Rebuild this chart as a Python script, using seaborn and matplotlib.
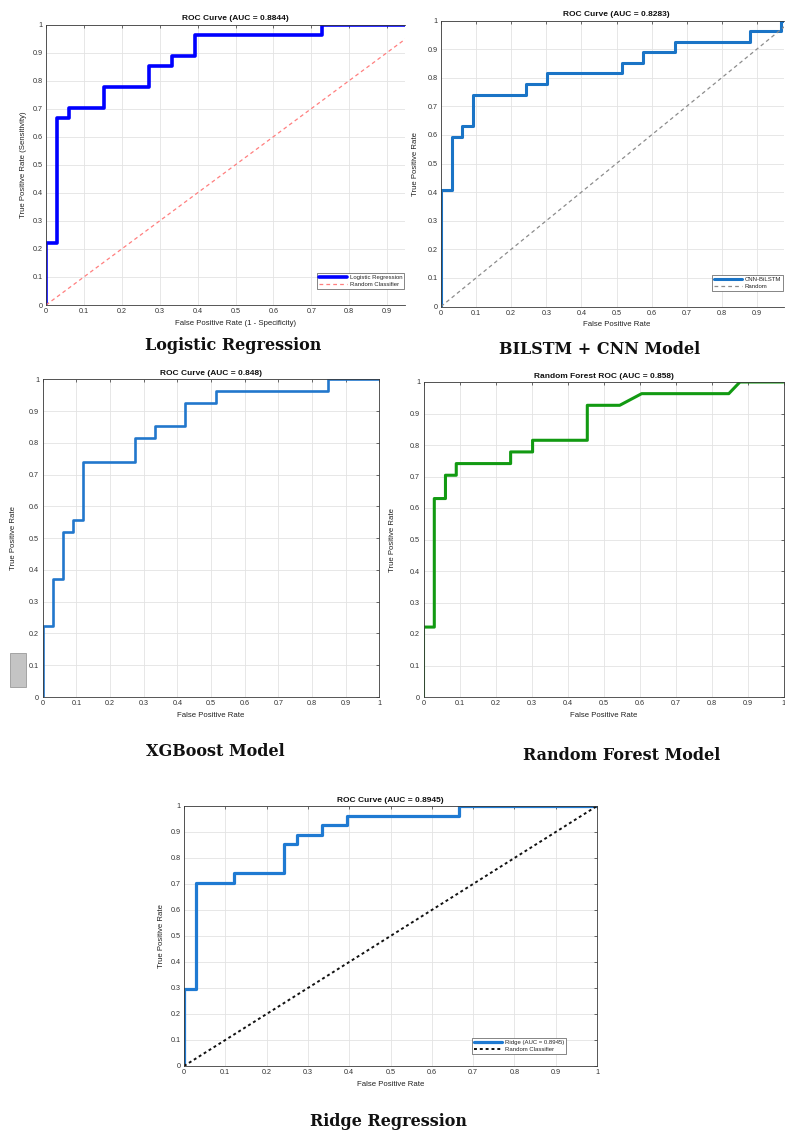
import numpy as np
import pandas as pd
import seaborn as sns
import matplotlib
matplotlib.use("Agg")
import matplotlib.pyplot as plt
from matplotlib.patches import Rectangle

# ---------------- ROC data (corner points of each curve) ----------------
lr_fpr = [0.0, 0.0, 0.030, 0.030, 0.061, 0.061, 0.152, 0.152, 0.273, 0.273,
          0.333, 0.333, 0.394, 0.394, 0.727, 0.727, 1.0]
lr_tpr = [0.0, 0.222, 0.222, 0.667, 0.667, 0.704, 0.704, 0.778, 0.778, 0.852,
          0.852, 0.889, 0.889, 0.963, 0.963, 1.0, 1.0]

cnn_fpr = [0.0, 0.0, 0.030, 0.030, 0.061, 0.061, 0.091, 0.091, 0.242, 0.242,
           0.303, 0.303, 0.515, 0.515, 0.576, 0.576, 0.667, 0.667, 0.879, 0.879,
           0.970, 0.970, 1.0]
cnn_tpr = [0.0, 0.407, 0.407, 0.593, 0.593, 0.630, 0.630, 0.741, 0.741, 0.778,
           0.778, 0.815, 0.815, 0.852, 0.852, 0.889, 0.889, 0.926, 0.926, 0.963,
           0.963, 1.0, 1.0]

xgb_fpr = [0.0, 0.0, 0.030, 0.030, 0.061, 0.061, 0.091, 0.091, 0.121, 0.121,
           0.273, 0.273, 0.333, 0.333, 0.424, 0.424, 0.515, 0.515, 0.848, 0.848, 1.0]
xgb_tpr = [0.0, 0.222, 0.222, 0.370, 0.370, 0.519, 0.519, 0.556, 0.556, 0.741,
           0.741, 0.815, 0.815, 0.852, 0.852, 0.926, 0.926, 0.963, 0.963, 1.0, 1.0]

rf_fpr = [0.0, 0.0, 0.030, 0.030, 0.061, 0.061, 0.091, 0.091, 0.242, 0.242,
          0.303, 0.303, 0.455, 0.455, 0.545, 0.606, 0.848, 0.879, 1.0]
rf_tpr = [0.0, 0.222, 0.222, 0.630, 0.630, 0.704, 0.704, 0.741, 0.741, 0.778,
          0.778, 0.815, 0.815, 0.926, 0.926, 0.963, 0.963, 1.0, 1.0]

ridge_fpr = [0.0, 0.0, 0.030, 0.030, 0.121, 0.121, 0.242, 0.242, 0.273, 0.273,
             0.333, 0.333, 0.394, 0.394, 0.667, 0.667, 1.0]
ridge_tpr = [0.0, 0.296, 0.296, 0.704, 0.704, 0.741, 0.741, 0.852, 0.852, 0.889,
             0.889, 0.926, 0.926, 0.963, 0.963, 1.0, 1.0]

chance = [0.0, 1.0]

tick_vals = [0, 0.1, 0.2, 0.3, 0.4, 0.5, 0.6, 0.7, 0.8, 0.9, 1]
tick_text = ["0", "0.1", "0.2", "0.3", "0.4", "0.5", "0.6", "0.7", "0.8", "0.9", "1"]

titles = ["ROC Curve (AUC = 0.8844)", "ROC Curve (AUC = 0.8283)",
          "ROC Curve (AUC = 0.848)", "Random Forest ROC (AUC = 0.858)",
          "ROC Curve (AUC = 0.8945)"]
captions = ["Logistic Regression", "BILSTM + CNN Model", "XGBoost Model",
            "Random Forest Model", "Ridge Regression"]

# ---------------- style ----------------
sns.set_style("white")
plt.rcParams["font.family"] = ["Liberation Sans", "DejaVu Sans"]

W, H = 785, 1133
fig = plt.figure(figsize=(W / 100, H / 100), dpi=100)
fig.patch.set_facecolor("white")


def px_axes(left, top, right, bottom):
    return fig.add_axes([left / W, 1 - bottom / H, (right - left) / W, (bottom - top) / H])


def fx(x):
    return x / W


def fy(y):
    return 1 - y / H


def style_axes(ax, xmax, right_side=True):
    ax.set_xlim(0, xmax)
    ax.set_ylim(0, 1)
    n = len([v for v in tick_vals if v <= xmax + 1e-9])
    ax.set_xticks(tick_vals[:n])
    ax.set_xticklabels(tick_text[:n])
    ax.set_yticks(tick_vals)
    ax.set_yticklabels(tick_text)
    ax.grid(True, color="#e3e3e3", linewidth=0.6)
    ax.set_axisbelow(True)
    ax.tick_params(direction="in", length=2.5, width=0.5, labelsize=5.2,
                   pad=2.5, colors="#333333", top=True, right=right_side)
    for side, sp in ax.spines.items():
        sp.set_color("#3a3a3a")
        sp.set_linewidth(0.6)
    if not right_side:
        ax.spines["right"].set_visible(False)


def draw_curve(ax, fpr, tpr, color, lw, label=None):
    df = pd.DataFrame({"fpr": fpr, "tpr": tpr})
    sns.lineplot(data=df, x="fpr", y="tpr", sort=False, estimator=None,
                 color=color, linewidth=lw, label=label, ax=ax, legend=False)


def draw_chance(ax, color, lw, dashes, label=None):
    df = pd.DataFrame({"fpr": chance, "tpr": chance})
    sns.lineplot(data=df, x="fpr", y="tpr", sort=False, estimator=None,
                 color=color, linewidth=lw, label=label, ax=ax, legend=False,
                 dashes=False)
    ax.lines[-1].set_dashes(dashes)


def add_legend(ax, x0, y0):
    h, l = ax.get_legend_handles_labels()
    leg = ax.legend(h, l, loc="upper left",
                    bbox_to_anchor=(fx(x0), fy(y0)), bbox_transform=fig.transFigure,
                    fontsize=4.3, frameon=True, fancybox=False, framealpha=1,
                    edgecolor="#555555", handlelength=4.6, handletextpad=0.5,
                    borderpad=0.35, labelspacing=0.25, borderaxespad=0)
    leg.get_frame().set_linewidth(0.5)
    return leg


title_kw = dict(fontsize=6, fontweight="bold", color="#111111")
label_kw = dict(fontsize=5.6, color="#222222")
cap_kw = dict(fontsize=11.5, fontweight="bold", family=["DejaVu Serif"],
              color="#111111", ha="center", va="center")

# ---------------- Logistic Regression ----------------
ax1 = px_axes(46, 24.5, 405, 305)
xmax1 = (405 - 46) / 379
style_axes(ax1, xmax1, right_side=False)
draw_curve(ax1, lr_fpr, lr_tpr, "#0000ff", 2.6, "Logistic Regression")
draw_chance(ax1, "#ff7f7f", 0.9, (3, 2.5), "Random Classifier")
ax1.set_title(titles[0], x=(235.5 - 46) / (405 - 46), pad=3, **title_kw)
ax1.set_xlabel("False Positive Rate (1 - Specificity)", labelpad=3, **label_kw)
ax1.xaxis.label.set_x((235.5 - 46) / (405 - 46))
ax1.set_ylabel("True Positive Rate (Sensitivity)", labelpad=4, **label_kw)
add_legend(ax1, 317, 273)

# ---------------- BiLSTM + CNN ----------------
ax2 = px_axes(441, 20.5, 784, 306.5)
xmax2 = (784 - 441) / 351
style_axes(ax2, xmax2, right_side=False)
draw_curve(ax2, cnn_fpr, cnn_tpr, "#1a74c6", 2.2, "CNN-BiLSTM")
draw_chance(ax2, "#8c8c8c", 0.9, (3, 2.5), "Random")
ax2.set_title(titles[1], x=(616.5 - 441) / (784 - 441), pad=3, **title_kw)
ax2.set_xlabel("False Positive Rate", labelpad=3, **label_kw)
ax2.xaxis.label.set_x((616.5 - 441) / (784 - 441))
ax2.set_ylabel("True Positive Rate", labelpad=6, **label_kw)
add_legend(ax2, 712, 275)

# ---------------- XGBoost ----------------
ax3 = px_axes(42.7, 379.3, 379.3, 697)
style_axes(ax3, 1.0)
draw_curve(ax3, xgb_fpr, xgb_tpr, "#2277cc", 1.9)
ax3.set_title(titles[2], pad=3, **title_kw)
ax3.set_xlabel("False Positive Rate", labelpad=3, **label_kw)
ax3.set_ylabel("True Positive Rate", labelpad=9, **label_kw)
fig.patches.append(Rectangle((fx(10), fy(687)), fx(16), (687 - 653) / H,
                             transform=fig.transFigure, facecolor="#c4c4c4",
                             edgecolor="#9a9a9a", linewidth=0.6))

# ---------------- Random Forest ----------------
ax4 = px_axes(423.5, 382, 783.5, 697)
style_axes(ax4, 1.0)
draw_curve(ax4, rf_fpr, rf_tpr, "#129a12", 2.2)
ax4.set_title(titles[3], pad=3, **title_kw)
ax4.set_xlabel("False Positive Rate", labelpad=3, **label_kw)
ax4.set_ylabel("True Positive Rate", labelpad=10, **label_kw)

# ---------------- Ridge Regression ----------------
ax5 = px_axes(184, 806, 597, 1066)
style_axes(ax5, 1.0)
draw_curve(ax5, ridge_fpr, ridge_tpr, "#1f7ad2", 2.3, "Ridge (AUC = 0.8945)")
draw_chance(ax5, "#111111", 1.4, (1.5, 1.5), "Random Classifier")
ax5.set_title(titles[4], pad=3, **title_kw)
ax5.set_xlabel("False Positive Rate", labelpad=3, **label_kw)
ax5.set_ylabel("True Positive Rate", labelpad=4, **label_kw)
add_legend(ax5, 472, 1038)

# ---------------- captions under each panel ----------------
fig.text(fx(233), fy(345), captions[0], **cap_kw)
fig.text(fx(600), fy(350), captions[1], **cap_kw)
fig.text(fx(215.7), fy(751.7), captions[2], **cap_kw)
fig.text(fx(621.7), fy(756), captions[3], **cap_kw)
fig.text(fx(388), fy(1122), captions[4], **cap_kw)

fig.savefig("out.png", dpi=100, facecolor="white")
